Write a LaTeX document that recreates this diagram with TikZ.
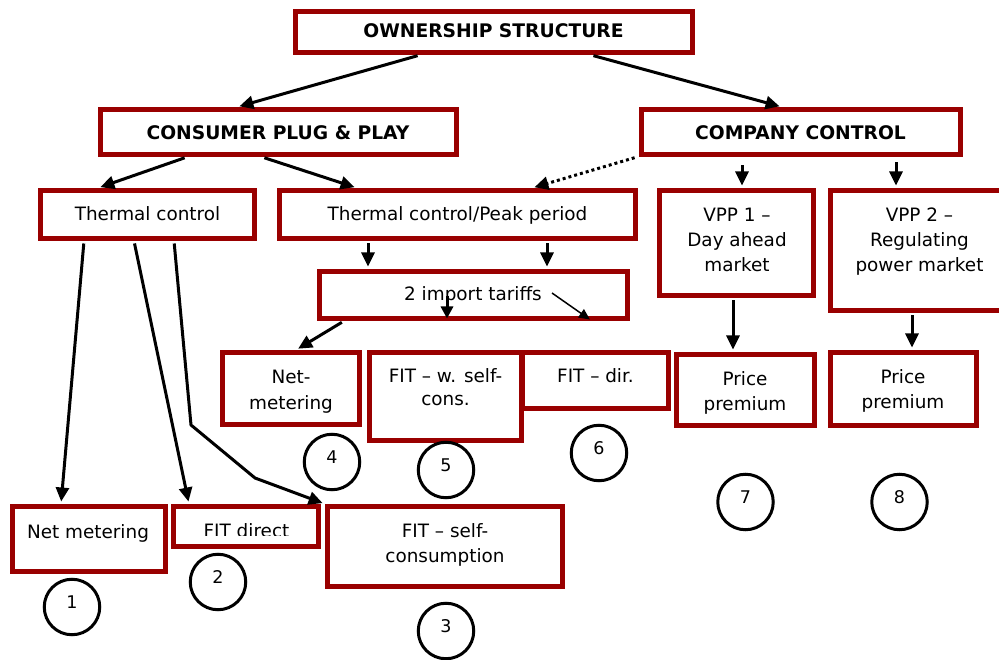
\documentclass[tikz,border=0pt]{standalone}
\usepackage{fontspec}
\setmainfont{DejaVu Sans}
\usetikzlibrary{arrows.meta}
\definecolor{boxred}{RGB}{153,0,0}
\begin{document}
\begin{tikzpicture}[x=1pt,y=-1pt,
  box/.style={draw=boxred, line width=5pt, inner sep=0pt, rectangle},
  txt/.style={font=\fontsize{18.4}{25}\selectfont, inner sep=0pt, align=center, anchor=base},
  btxt/.style={font=\fontsize{18.7}{22}\selectfont\bfseries, inner sep=0pt, anchor=base},
  num/.style={draw=black, line width=3pt, circle, minimum size=55.5pt, inner sep=0pt},
  numtxt/.style={font=\fontsize{17.5}{20}\selectfont, inner sep=0pt, anchor=base},
  arr/.style={line width=3pt, -{Triangle[length=14pt,width=13pt]}, shorten >=2.5pt, shorten <=2.5pt},
  dotarr/.style={arr, dash pattern=on 3pt off 3pt},
  thinarr/.style={line width=1.5pt, -{Triangle[length=11pt,width=10pt]}}
]
\useasboundingbox (0,0) rectangle (999,660);

% boxes
\node[box, minimum width=397pt, minimum height=40.5pt] (own) at (494,32.25) {};
\node[box, minimum width=356pt, minimum height=45pt] (cpp) at (278.5,132) {};
\node[box, minimum width=319pt, minimum height=45pt] (cc) at (801,132) {};
\node[box, minimum width=214pt, minimum height=48pt] (tc) at (147.5,214.5) {};
\node[box, minimum width=356pt, minimum height=48pt] (tcp) at (457.5,214.5) {};
\node[box, minimum width=154pt, minimum height=105pt] (vpp1) at (736.5,243) {};
\node[box, minimum width=179pt, minimum height=120pt] (vpp2) at (920,250.5) {};
\node[box, minimum width=308pt, minimum height=47pt] (tar) at (473.5,295) {};
\node[box, minimum width=137pt, minimum height=72pt] (nm4) at (291,388.5) {};
\node[box, minimum width=146pt, minimum height=56pt] (fdir) at (595.5,380.5) {};
\node[box, minimum width=152pt, minimum height=87.5pt] (fitw) at (445.5,396.75) {};
\node[box, minimum width=138pt, minimum height=71pt] (pp7) at (745.5,390) {};
\node[box, minimum width=146pt, minimum height=73pt] (pp8) at (903.5,389) {};
\node[box, minimum width=153pt, minimum height=65pt] (nm1) at (88.5,539) {};
\node[box, minimum width=145pt, minimum height=40pt] (fd) at (246,526.5) {};
\node[box, minimum width=235pt, minimum height=80pt] (fsc) at (445,546.5) {};

% texts (multi-line nodes: base = last line)
\node[btxt] (townn) at (493.5,38) {OWNERSHIP STRUCTURE};
\node[btxt] (tcpp) at (278,140) {CONSUMER PLUG \& PLAY};
\node[btxt] (tcc) at (800.5,140) {COMPANY CONTROL};
\node[txt] (ttc) at (147.5,221) {Thermal control};
\node[txt] (ttcp) at (457.5,221) {Thermal control/Peak period};
\node[txt] (tvpp1) at (737,272) {VPP 1 --\\Day ahead\\market};
\node[txt] (tvpp2) at (919.5,272) {VPP 2 --\\Regulating\\power market};
\node[txt] (ttar) at (473,301) {2 import tariffs};
\node[txt, font=\fontsize{18.4}{26}\selectfont] (tnm4) at (291,409) {Net-\\metering};
\node[txt, font=\fontsize{18.4}{23.5}\selectfont] (tfitw) at (445.5,405.5) {FIT -- w. self-\\cons.};
\node[txt] (tfdir) at (595.5,382) {FIT -- dir.};
\node[txt] (tpp7) at (745,410) {Price\\premium};
\node[txt] (tpp8) at (903,408) {Price\\premium};
\node[txt] (tnm1) at (88,538) {Net metering};
\begin{scope}
  \clip (150,500) rectangle (330,535.5);
  \node[txt] (tfd) at (246.5,537) {FIT direct};
\end{scope}
\node[txt, font=\fontsize{18.4}{25.5}\selectfont] (tfsc) at (445,562.5) {FIT -- self-\\consumption};

% numbered circles
\foreach \n/\x/\y in {1/72/607, 2/218/582, 3/446/631, 4/332/462, 5/446/470, 6/599/453, 7/745.5/502, 8/899.5/502}{
  \node[num] (c\n) at (\x,\y) {};
  \node[numtxt] (n\n) at ([yshift=-1pt]c\n.center) {\n};
}

% connectors
\draw[arr] (own.south -| 420,0) -- (cpp.north -| 237,0);
\draw[arr] (own.south -| 591,0) -- (cc.north -| 782,0);
\draw[arr] (cpp.south -| 187,0) -- (tc.north -| 98,0);
\draw[arr] (cpp.south -| 262,0) -- (tcp.north -| 357,0);
\draw[dotarr] (cc.south -| 637,0) -- (tcp.north -| 532,0);
\draw[arr, shorten <=8.5pt] (cc.south -| 742,0) -- (vpp1.north -| 742,0);
\draw[arr, shorten <=5.5pt] (cc.south -| 896,0) -- (vpp2.north -| 896,0);
\draw[arr] (tcp.south -| 368,0) -- (tar.north -| 368,0);
\draw[arr] (tcp.south -| 547,0) -- (tar.north -| 547,0);
\coordinate (ta1) at (447,296);
\draw[arr, shorten <=0pt, -{Triangle[length=12pt,width=12pt]}] (ta1) -- (tar.south -| 447,0);
\coordinate (ta2) at (552,293);
\draw[thinarr, shorten >=2.5pt] (ta2) -- (tar.south -| 592,0);
\draw[arr] (tar.south -| 344,0) -- (nm4.north -| 296,0);
\draw[arr] (vpp1.south -| 733,0) -- (pp7.north -| 733,0);
\draw[arr] (vpp2.south -| 912,0) -- (pp8.north -| 912,0);
\draw[arr] (tc.south -| 84,0) -- (nm1.north -| 61,0);
\draw[arr] (tc.south -| 134,0) -- (fd.north -| 189,0);
\coordinate (b1) at (191,425);
\coordinate (b2) at (255,478);
\draw[arr, line join=round] (tc.south -| 174,0) -- (b1) -- (b2) -- (fsc.north west);
\end{tikzpicture}
\end{document}
